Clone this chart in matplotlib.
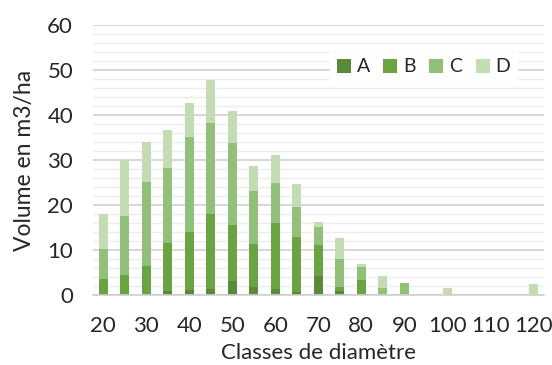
import matplotlib
matplotlib.use("Agg")
import matplotlib.pyplot as plt
import numpy as np

plt.rcParams['font.family'] = ['Lato', 'DejaVu Sans']

# Diameter classes (cm)
classes = [20, 25, 30, 35, 40, 45, 50, 55, 60, 65, 70, 75, 80, 85, 90, 95, 100, 105, 110, 115, 120]

# Volume per hectare for each quality grade (m3/ha)
vol_A = [0.0, 0.0, 0.0, 1.0, 1.2, 1.5, 3.1, 1.9, 1.5, 0.8, 4.3, 1.0, 0.0, 0.0, 0.0, 0.0, 0.0, 0.0, 0.0, 0.0, 0.0]
vol_B = [3.7, 4.5, 6.5, 10.7, 12.8, 16.5, 12.6, 9.5, 14.5, 12.1, 6.8, 0.9, 3.4, 0.0, 0.0, 0.0, 0.0, 0.0, 0.0, 0.0, 0.0]
vol_C = [6.5, 13.0, 18.6, 16.6, 21.2, 20.3, 18.0, 11.8, 8.9, 6.8, 4.0, 6.1, 2.8, 1.7, 2.7, 0.0, 0.0, 0.0, 0.0, 0.0, 0.0]
vol_D = [7.8, 12.5, 8.9, 8.4, 7.5, 9.5, 7.3, 5.4, 6.2, 4.9, 1.2, 4.8, 0.8, 2.5, 0.0, 0.0, 1.7, 0.0, 0.0, 0.0, 2.5]

series = {'A': vol_A, 'B': vol_B, 'C': vol_C, 'D': vol_D}
colors = {'A': '#588a3a', 'B': '#6aa341', 'C': '#92bf7a', 'D': '#c3dcb3'}

fig = plt.figure(figsize=(5.52, 3.65), dpi=100)
ax = fig.add_axes([0.1676, 0.191, 0.8179, 0.7405])

pos = np.arange(len(classes))
bottom = np.zeros(len(classes))
for name, vals in series.items():
    vals = np.array(vals)
    ax.bar(pos, vals, width=0.43, bottom=bottom, color=colors[name], label=name,
           zorder=3, linewidth=0)
    bottom += vals

ax.set_xlim(-0.5, len(classes) - 0.5)
ax.set_ylim(0, 60)
ax.set_yticks(np.arange(0, 61, 10))
ax.set_yticks(np.arange(0, 61, 2), minor=True)
ax.set_xticks(pos[::2])
ax.set_xticklabels([str(c) for c in classes[::2]])

ax.grid(axis='y', which='minor', color='#ececec', linewidth=1.0, zorder=0)
ax.grid(axis='y', which='major', color='#cfcfcf', linewidth=1.2, zorder=1)
ax.grid(axis='x', which='both', visible=False)

for s in ['top', 'right', 'left']:
    ax.spines[s].set_visible(False)
ax.spines['bottom'].set_color('#cfcfcf')
ax.spines['bottom'].set_linewidth(1.2)
ax.spines['bottom'].set_zorder(4)

ax.tick_params(axis='both', which='both', length=0, labelsize=16)
ax.tick_params(axis='y', pad=14)
ax.tick_params(axis='x', pad=15)
for lbl in ax.get_xticklabels() + ax.get_yticklabels():
    lbl.set_color('#262626')

ax.set_ylabel('Volume en m3/ha', fontsize=16.5, color='#262626', labelpad=9)
ax.set_xlabel('Classes de diamètre', fontsize=16, color='#262626', labelpad=5)

leg = ax.legend(ncol=4, loc='center', bbox_to_anchor=(0.733, 0.845), frameon=True,
                fontsize=14, handlelength=0.72, handleheight=0.72, handletextpad=0.3,
                columnspacing=0.7, borderpad=0.35, fancybox=False)
leg.get_frame().set_facecolor('white')
leg.get_frame().set_edgecolor('white')
leg.get_frame().set_alpha(1.0)
leg.set_zorder(5)
for t in leg.get_texts():
    t.set_color('#262626')

fig.savefig('out.png', dpi=100)
